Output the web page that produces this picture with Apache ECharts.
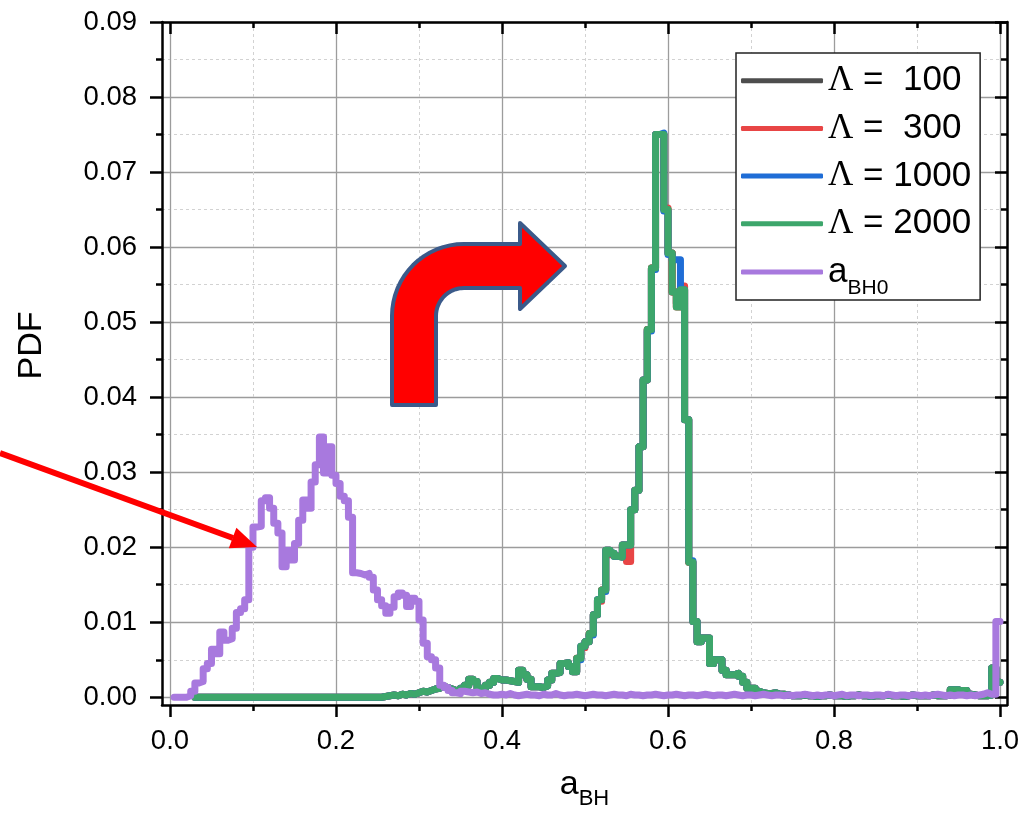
<!DOCTYPE html>
<html>
<head>
<meta charset="utf-8">
<title>PDF of a_BH</title>
<script src="https://cdn.jsdelivr.net/npm/echarts@6/dist/echarts.min.js"></script>
<style>
  html, body { margin: 0; padding: 0; background: #fff; }
  #chart { width: 1029px; height: 818px; }
</style>
</head>
<body>
<div id="chart"></div>
<script>
  // histogram bins, 0.005 wide; each value is the PDF of the bin starting at that edge
  var binWidth = 0.005;

  var xTicks = [0, 0.2, 0.4, 0.6, 0.8, 1.0];
  var xMinorTicks = [0.1, 0.3, 0.5, 0.7, 0.9];
  var yTicks = [0, 0.01, 0.02, 0.03, 0.04, 0.05, 0.06, 0.07, 0.08, 0.09];
  var yMinorTicks = [0.005, 0.015, 0.025, 0.035, 0.045, 0.055, 0.065, 0.075, 0.085];

  // initial spin a_BH0, bins from 0.005 to 0.995
  var aBH0Start = 0.005;
  var aBH0Pdf = [
    0, 0, 0, 0.0002, 0.0008, 0.0019, 0.0021, 0.0038, 0.0045, 0.0064,
    0.0058, 0.0087, 0.0076, 0.0078, 0.0092, 0.0113, 0.0118, 0.0130, 0.0200, 0.0227,
    0.0228, 0.0262, 0.0266, 0.0252, 0.0232, 0.0219, 0.0174, 0.0196, 0.0183, 0.0205,
    0.0236, 0.0263, 0.0252, 0.0287, 0.0310, 0.0347, 0.0299, 0.0334, 0.0296, 0.0285,
    0.0268, 0.0262, 0.0240, 0.0166, 0.0165, 0.0163, 0.0165, 0.0160, 0.0143, 0.0130,
    0.0122, 0.0112, 0.0120, 0.0134, 0.0139, 0.0136, 0.0121, 0.0132, 0.0128, 0.0103,
    0.0072, 0.0054, 0.0050, 0.0039, 0.0016, 0.0013, 0.0009, 0.0006, 0.0005,
    0.0008, 0.0007, 0.0006, 0.0007, 0.0005, 0.0006, 0.0004, 0.0003,
    0.0003, 0.0004, 0.0003, 0.0005, 0.0003, 0.0002, 0.0003, 0.0004, 0.0003, 0.0003,
    0.0002, 0.0004, 0.0003, 0.0003, 0.0005, 0.0003, 0.0002, 0.0003, 0.0003, 0.0004,
    0.0003, 0.0002, 0.0003, 0.0004, 0.0003, 0.0003, 0.0002, 0.0003, 0.0004, 0.0003,
    0.0003, 0.0002, 0.0004, 0.0003, 0.0003, 0.0002, 0.0003, 0.0003, 0.0004, 0.0003,
    0.0002, 0.0003, 0.0003, 0.0004, 0.0003, 0.0002, 0.0003, 0.0003, 0.0002, 0.0003,
    0.0004, 0.0003, 0.0002, 0.0003, 0.0003, 0.0002, 0.0003, 0.0004, 0.0003, 0.0002,
    0.0003, 0.0003, 0.0002, 0.0003, 0.0004, 0.0003, 0.0002, 0.0003, 0.0003, 0.0002,
    0.0003, 0.0002, 0.0003, 0.0003, 0.0004, 0.0003, 0.0002, 0.0003, 0.0002, 0.0003,
    0.0003, 0.0002, 0.0003, 0.0004, 0.0002, 0.0003, 0.0003, 0.0002, 0.0003, 0.0003,
    0.0002, 0.0003, 0.0003, 0.0002, 0.0004, 0.0003, 0.0002, 0.0003, 0.0003, 0.0002,
    0.0003, 0.0003, 0.0002, 0.0003, 0.0002, 0.0003, 0.0004, 0.0003, 0.0002, 0.0003,
    0.0002, 0.0003, 0.0003, 0.0002, 0.0003, 0.0002, 0.0003, 0.0004, 0.0006, 0.0004,
    0.0004, 0.0101
  ];

  // final spin for each Lambda: zero from 0.03, then bins from 0.255 to 0.995
  var lambdaLead = 0.03;
  var lambdaStart = 0.255;
  var pdfL2000 = [
    0.0001, 0.0002, 0.0003, 0.0002, 0.0004, 0.0003, 0.0005, 0.0004, 0.0006, 0.0008,
    0.0007, 0.0009, 0.0011, 0.0012, 0.0014, 0.0013, 0.0011, 0.0009, 0.0008, 0.0012,
    0.0016, 0.0024, 0.0021, 0.0012, 0.0012, 0.0016, 0.0020, 0.0025, 0.0023, 0.0023,
    0.0022, 0.0021, 0.0020, 0.0036, 0.0030, 0.0024, 0.0014, 0.0014, 0.0013, 0.0015,
    0.0023, 0.0032, 0.0033, 0.0045, 0.0046, 0.0041, 0.0034, 0.0052, 0.0068, 0.0074,
    0.0085, 0.0110, 0.0130, 0.0143, 0.0196, 0.0192, 0.0188, 0.0187, 0.0203, 0.0203,
    0.0250, 0.0276, 0.0334, 0.0423, 0.0490, 0.0572, 0.0750, 0.0750, 0.0650, 0.0592,
    0.0540, 0.0520, 0.0543, 0.0370, 0.0180, 0.0101, 0.0074, 0.0079, 0.0079, 0.0045,
    0.0050, 0.0050, 0.0036, 0.0030, 0.0030, 0.0032, 0.0028, 0.0020, 0.0012, 0.0012,
    0.0008, 0.0006, 0.0005, 0.0005, 0.0006, 0.0004, 0.0004, 0.0003, 0.0002, 0.0002,
    0.0002, 0.0003, 0.0002, 0.0002, 0.0001, 0.0002, 0.0002, 0.0003, 0.0002, 0.0002,
    0.0002, 0.0001, 0.0002, 0.0002, 0.0003, 0.0002, 0.0002, 0.0001, 0.0002, 0.0002,
    0.0002, 0.0003, 0.0002, 0.0002, 0.0002, 0.0001, 0.0002, 0.0003, 0.0002, 0.0002,
    0.0002, 0.0002, 0.0003, 0.0002, 0.0002, 0.0002, 0.0003, 0.0010, 0.0010, 0.0006,
    0.0009, 0.0004, 0.0003, 0.0002, 0.0002, 0.0002, 0.0003, 0.0039, 0.0020
  ];
  var pdfL1000 = [
    0.0001, 0.0002, 0.0003, 0.0002, 0.0004, 0.0003, 0.0005, 0.0004, 0.0006, 0.0008,
    0.0007, 0.0009, 0.0011, 0.0012, 0.0014, 0.0013, 0.0011, 0.0009, 0.0008, 0.0012,
    0.0016, 0.0024, 0.0021, 0.0012, 0.0012, 0.0016, 0.0020, 0.0025, 0.0023, 0.0023,
    0.0022, 0.0021, 0.0020, 0.0036, 0.0030, 0.0024, 0.0014, 0.0014, 0.0013, 0.0015,
    0.0023, 0.0032, 0.0033, 0.0045, 0.0046, 0.0041, 0.0034, 0.0050, 0.0068, 0.0074,
    0.0083, 0.0110, 0.0130, 0.0141, 0.0196, 0.0192, 0.0188, 0.0187, 0.0203, 0.0203,
    0.0250, 0.0276, 0.0334, 0.0423, 0.0488, 0.0570, 0.0750, 0.0752, 0.0648, 0.0590,
    0.0583, 0.0583, 0.0543, 0.0370, 0.0182, 0.0101, 0.0074, 0.0079, 0.0079, 0.0045,
    0.0050, 0.0050, 0.0036, 0.0030, 0.0030, 0.0032, 0.0028, 0.0020, 0.0012, 0.0012,
    0.0008, 0.0006, 0.0005, 0.0005, 0.0006, 0.0004, 0.0004, 0.0003, 0.0002, 0.0002,
    0.0002, 0.0003, 0.0002, 0.0002, 0.0001, 0.0002, 0.0002, 0.0003, 0.0002, 0.0002,
    0.0002, 0.0001, 0.0002, 0.0002, 0.0003, 0.0002, 0.0002, 0.0001, 0.0002, 0.0002,
    0.0002, 0.0003, 0.0002, 0.0002, 0.0002, 0.0001, 0.0002, 0.0003, 0.0002, 0.0002,
    0.0002, 0.0002, 0.0003, 0.0002, 0.0002, 0.0002, 0.0003, 0.0010, 0.0010, 0.0006,
    0.0009, 0.0004, 0.0003, 0.0002, 0.0002, 0.0002, 0.0003, 0.0039, 0.0020
  ];
  var pdfL300 = [
    0.0001, 0.0002, 0.0003, 0.0002, 0.0004, 0.0003, 0.0005, 0.0004, 0.0006, 0.0008,
    0.0007, 0.0009, 0.0011, 0.0012, 0.0014, 0.0013, 0.0011, 0.0009, 0.0008, 0.0012,
    0.0016, 0.0024, 0.0021, 0.0012, 0.0012, 0.0016, 0.0020, 0.0025, 0.0023, 0.0023,
    0.0022, 0.0021, 0.0020, 0.0036, 0.0030, 0.0024, 0.0014, 0.0014, 0.0013, 0.0015,
    0.0023, 0.0032, 0.0033, 0.0045, 0.0046, 0.0041, 0.0034, 0.0052, 0.0066, 0.0074,
    0.0085, 0.0110, 0.0128, 0.0143, 0.0196, 0.0190, 0.0188, 0.0187, 0.0203, 0.0181,
    0.0250, 0.0276, 0.0334, 0.0423, 0.0490, 0.0572, 0.0750, 0.0750, 0.0652, 0.0592,
    0.0540, 0.0520, 0.0548, 0.0370, 0.0180, 0.0101, 0.0074, 0.0079, 0.0079, 0.0045,
    0.0050, 0.0050, 0.0036, 0.0030, 0.0030, 0.0032, 0.0028, 0.0020, 0.0012, 0.0012,
    0.0008, 0.0006, 0.0005, 0.0005, 0.0006, 0.0004, 0.0004, 0.0003, 0.0002, 0.0002,
    0.0002, 0.0003, 0.0002, 0.0002, 0.0001, 0.0002, 0.0002, 0.0003, 0.0002, 0.0002,
    0.0002, 0.0001, 0.0002, 0.0002, 0.0003, 0.0002, 0.0002, 0.0001, 0.0002, 0.0002,
    0.0002, 0.0003, 0.0002, 0.0002, 0.0002, 0.0001, 0.0002, 0.0003, 0.0002, 0.0002,
    0.0002, 0.0002, 0.0003, 0.0002, 0.0002, 0.0002, 0.0003, 0.0010, 0.0010, 0.0006,
    0.0009, 0.0004, 0.0003, 0.0002, 0.0002, 0.0002, 0.0003, 0.0039, 0.0020
  ];
  var pdfL100 = [
    0.0001, 0.0002, 0.0003, 0.0002, 0.0004, 0.0003, 0.0005, 0.0004, 0.0006, 0.0008,
    0.0007, 0.0009, 0.0011, 0.0012, 0.0014, 0.0013, 0.0011, 0.0009, 0.0008, 0.0012,
    0.0016, 0.0024, 0.0021, 0.0012, 0.0012, 0.0016, 0.0020, 0.0025, 0.0023, 0.0023,
    0.0022, 0.0021, 0.0020, 0.0036, 0.0030, 0.0024, 0.0014, 0.0014, 0.0013, 0.0015,
    0.0023, 0.0032, 0.0033, 0.0045, 0.0046, 0.0041, 0.0034, 0.0052, 0.0068, 0.0074,
    0.0085, 0.0110, 0.0130, 0.0143, 0.0196, 0.0192, 0.0188, 0.0187, 0.0203, 0.0203,
    0.0250, 0.0276, 0.0334, 0.0423, 0.0490, 0.0572, 0.0750, 0.0750, 0.0650, 0.0592,
    0.0540, 0.0525, 0.0543, 0.0370, 0.0180, 0.0101, 0.0074, 0.0079, 0.0079, 0.0045,
    0.0050, 0.0050, 0.0036, 0.0030, 0.0030, 0.0032, 0.0028, 0.0020, 0.0012, 0.0012,
    0.0008, 0.0006, 0.0005, 0.0005, 0.0006, 0.0004, 0.0004, 0.0003, 0.0002, 0.0002,
    0.0002, 0.0003, 0.0002, 0.0002, 0.0001, 0.0002, 0.0002, 0.0003, 0.0002, 0.0002,
    0.0002, 0.0001, 0.0002, 0.0002, 0.0003, 0.0002, 0.0002, 0.0001, 0.0002, 0.0002,
    0.0002, 0.0003, 0.0002, 0.0002, 0.0002, 0.0001, 0.0002, 0.0003, 0.0002, 0.0002,
    0.0002, 0.0002, 0.0003, 0.0002, 0.0002, 0.0002, 0.0003, 0.0010, 0.0010, 0.0006,
    0.0009, 0.0004, 0.0003, 0.0002, 0.0002, 0.0002, 0.0003, 0.0039, 0.0020
  ];

  var names = ['Λ =  100', 'Λ =  300', 'Λ = 1000', 'Λ = 2000', 'aBH0'];
  var colors = ['#4d4d4d', '#e84545', '#1f6dd6', '#3da66b', '#a879de'];

  // axis extents: the frame sits a little outside 0..1 and below 0
  var xMin = -0.0096, xMax = 1.0084;
  var yMin = -0.00103, yMax = 0.09;

  function histData(start, values) {
    var pts = values.map(function (v, i) {
      return [+(start + i * binWidth).toFixed(3), v];
    });
    pts.push([+(start + values.length * binWidth).toFixed(3), values[values.length - 1]]);
    return pts;
  }

  function lambdaData(values) {
    return [[lambdaLead, 0]].concat(histData(lambdaStart, values));
  }

  function stepSeries(name, color, data) {
    return {
      name: name,
      type: 'line',
      step: 'end',
      data: data,
      symbol: 'none',
      itemStyle: { color: color },
      lineStyle: { color: color, width: 7, join: 'round', cap: 'round' },
      emphasis: { disabled: true }
    };
  }

  var black = '#000';
  var tickStyle = { color: black, width: 2.5 };

  function frameAxis(pos, min, max, major, minor, showLine, inside, extra) {
    var ax = {
      type: 'value',
      position: pos,
      min: min,
      max: max,
      axisLine: { show: showLine, onZero: false, lineStyle: { color: black, width: 2.5 } },
      axisTick: { show: true, inside: inside, customValues: major ? major : minor,
                  length: major ? 12 : 6, lineStyle: tickStyle },
      axisLabel: { show: false },
      splitLine: { show: false }
    };
    return Object.assign(ax, extra || {});
  }

  // outline of the bent block arrow (pixel layout of the annotation)
  function bentArrowPoints() {
    var pts = [[392, 405], [392, 316]];
    var cx = 464, cy = 316, R = 72, r = 28, k, a;
    for (k = 1; k <= 16; k++) {
      a = Math.PI - (Math.PI / 2) * k / 16;
      pts.push([cx + R * Math.cos(a), cy - R * Math.sin(a)]);
    }
    pts.push([520, 244], [520, 223], [565, 266], [520, 309], [520, 288], [464, 288]);
    for (k = 1; k <= 16; k++) {
      a = Math.PI / 2 + (Math.PI / 2) * k / 16;
      pts.push([cx + r * Math.cos(a), cy - r * Math.sin(a)]);
    }
    pts.push([436, 405]);
    return pts;
  }

  var myChart = echarts.init(document.getElementById('chart'));

  var option = {
    animation: false,
    textStyle: { fontFamily: 'Liberation Sans' },
    grid: { left: 162, right: 22, top: 22, bottom: 113, outerBoundsMode: 'none' },
    xAxis: [
      frameAxis('bottom', xMin, xMax, xTicks, null, true, false, {
        axisLabel: { show: true, customValues: xTicks, margin: 22, fontSize: 27.5, color: black,
                     formatter: function (v) { return v.toFixed(1); } },
        splitLine: { show: true, lineStyle: { color: '#9c9c9c', width: 1.3 } },
        name: '{a|a}{s|BH}',
        nameLocation: 'middle',
        nameGap: 63,
        nameTextStyle: {
          color: black,
          rich: {
            a: { fontSize: 34, lineHeight: 34, color: black },
            s: { fontSize: 22, lineHeight: 22, padding: [28, 0, 0, 0], color: black }
          }
        }
      }),
      frameAxis('bottom', xMin, xMax, null, xMinorTicks, false, false, {
        splitLine: { show: true, lineStyle: { color: '#d2d2d2', width: 1, type: [3, 3] } }
      }),
      frameAxis('top', xMin, xMax, xTicks, null, true, true),
      frameAxis('top', xMin, xMax, null, xMinorTicks, false, true)
    ],
    yAxis: [
      frameAxis('left', yMin, yMax, yTicks, null, true, false, {
        axisLabel: { show: true, customValues: yTicks, margin: 25, fontSize: 27.5, color: black,
                     formatter: function (v) { return v.toFixed(2); } },
        splitLine: { show: true, lineStyle: { color: '#9c9c9c', width: 1.3 } },
        name: 'PDF',
        nameLocation: 'middle',
        nameRotate: 90,
        nameGap: 113,
        nameTextStyle: { fontSize: 34, color: black, padding: [0, 0, 0, 36] }
      }),
      frameAxis('left', yMin, yMax, null, yMinorTicks, false, false, {
        splitLine: { show: true, lineStyle: { color: '#d2d2d2', width: 1, type: [3, 3] } }
      }),
      frameAxis('right', yMin, yMax, yTicks, null, true, true),
      frameAxis('right', yMin, yMax, null, yMinorTicks, false, true)
    ],
    legend: {
      orient: 'vertical',
      left: 736,
      top: 53,
      padding: [1.7, 9, 1.5, 5],
      itemGap: -4.3,
      itemWidth: 82,
      itemHeight: 5,
      icon: 'roundRect',
      backgroundColor: '#fff',
      borderColor: '#222',
      borderWidth: 1.5,
      borderRadius: 0,
      data: names,
      formatter: function (name) {
        if (name === 'aBH0') return '{a|a}{s|BH0}';
        return '{g|Λ}' + name.slice(1);
      },
      textStyle: {
        fontSize: 35,
        lineHeight: 52,
        color: black,
        rich: {
          g: { fontFamily: 'Liberation Serif', fontSize: 35, lineHeight: 52, color: black },
          a: { fontSize: 35, lineHeight: 35, color: black },
          s: { fontSize: 21, lineHeight: 21, padding: [32, 0, 0, 0], color: black }
        }
      }
    },
    series: [
      stepSeries(names[0], colors[0], lambdaData(pdfL100)),
      stepSeries(names[1], colors[1], lambdaData(pdfL300)),
      stepSeries(names[2], colors[2], lambdaData(pdfL1000)),
      stepSeries(names[3], colors[3], lambdaData(pdfL2000)),
      stepSeries(names[4], colors[4], histData(aBH0Start, aBH0Pdf))
    ],
    graphic: [
      // straight red pointer on the left
      { type: 'line', z: 100, shape: { x1: 0, y1: 453, x2: 233, y2: 538 },
        style: { stroke: '#ff0000', lineWidth: 6 } },
      { type: 'polygon', z: 100, shape: { points: [[257, 547], [228.8, 548.3], [236.4, 527.7]] },
        style: { fill: '#ff0000' } },
      // bent block arrow
      { type: 'polygon', z: 100, shape: { points: bentArrowPoints() },
        style: { fill: '#ff0000', stroke: '#3b5a8a', lineWidth: 4, lineJoin: 'round' } }
    ]
  };

  myChart.setOption(option);
</script>
</body>
</html>
